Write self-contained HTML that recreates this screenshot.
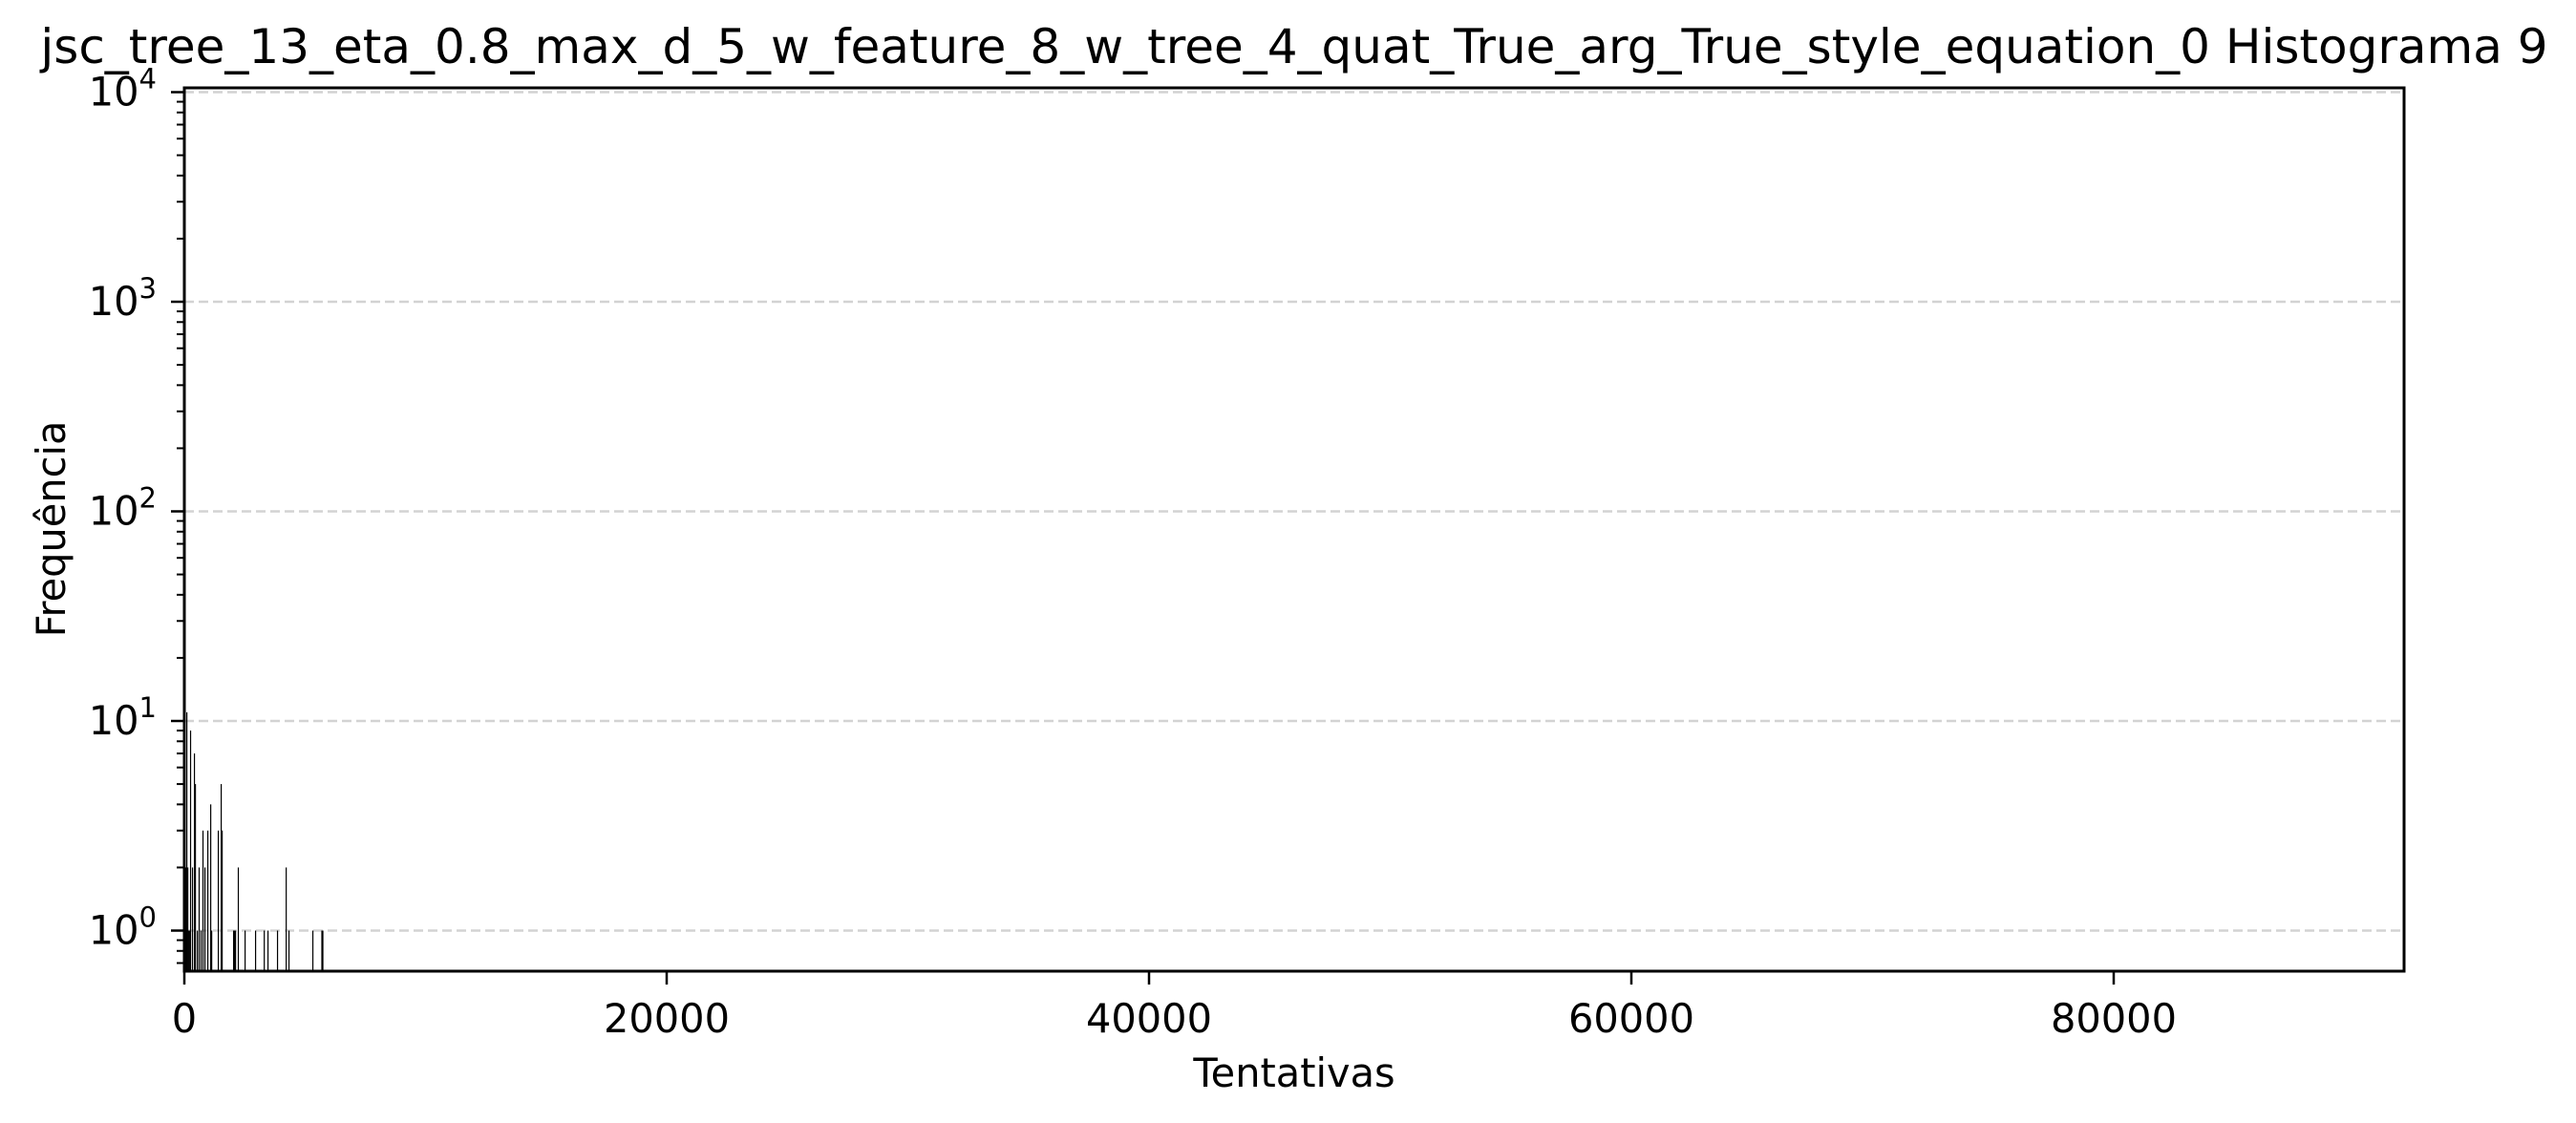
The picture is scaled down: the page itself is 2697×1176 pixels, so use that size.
<!DOCTYPE html>
<html><head><meta charset="utf-8"><style>
html,body{margin:0;padding:0;background:#fff;}
svg{display:block;font-family:"DejaVu Sans","Liberation Sans",sans-serif;}
</style></head><body>
<svg id="chart" width="2697" height="1176" xmlns="http://www.w3.org/2000/svg">
<rect width="2697" height="1176" fill="#fff"/>
<text x="1355" y="66" font-size="50" text-anchor="middle">jsc_tree_13_eta_0.8_max_d_5_w_feature_8_w_tree_4_quat_True_arg_True_style_equation_0 Histograma 9</text>
<g id="grid"></g>
<g id="bars"></g>
<g id="axes"></g>
<text x="1355" y="1138" font-size="41.5" text-anchor="middle">Tentativas</text>
<text transform="translate(68,554) rotate(-90)" font-size="41.5" text-anchor="middle">Frequência</text>
</svg>
<script>
const binStarts=[0,40,80,120,160,200,235,315,395,435,515,590,670,750,830,950,1070,1110,1385,1505,1545,2020,2060,2100,2215,2495,2930,3290,3445,3840,4200,4315,5305,5680,5720];
const binCounts=[1,2,11,2,1,1,9,2,7,5,1,2,1,3,2,3,4,1,3,5,3,1,1,1,2,1,1,1,1,1,2,1,1,1,1];
const binWidth=40;
const xTicks=[0,20000,40000,60000,80000];
const xTickLabels=["0","20000","40000","60000","80000"];
const yTicks=[1,10,100,1000,10000];
const yTickExp=["0","1","2","3","4"];
const L=193,R=2517,T=92,B=1017,XMAX=92040;
const Y0=974.5,DEC=219.5;
const NS="http://www.w3.org/2000/svg";
function xs(v){return L+v/XMAX*(R-L);}
function ys(v){return Y0-Math.log10(v)*DEC;}
function mk(tag,attrs,parent){const e=document.createElementNS(NS,tag);for(const k in attrs)e.setAttribute(k,attrs[k]);parent.appendChild(e);return e;}
const grid=document.getElementById('grid'),bars=document.getElementById('bars'),axes=document.getElementById('axes');
yTicks.forEach((v,i)=>{
  const g=mk('line',{x1:L,x2:R,y1:ys(v),y2:ys(v),stroke:'#d3d3d3','stroke-width':2.5,'stroke-dasharray':'10,5'},grid);
  
  
});
binStarts.forEach((s,i)=>{
  const x=xs(s),w=Math.max(xs(s+binWidth)-x,1.2),y=ys(binCounts[i]);
  const r=mk('rect',{x:x,y:y,width:w,height:B-y,fill:'#000'},bars);
  
  
});
const frame=mk('rect',{x:L,y:T,width:R-L,height:B-T,fill:'none',stroke:'#000','stroke-width':3},axes);


xTicks.forEach((v,i)=>{
  const t=mk('line',{x1:xs(v),x2:xs(v),y1:B,y2:B+14,stroke:'#000','stroke-width':2.5},axes);
  
  
  const l=mk('text',{x:xs(v),y:1081,'font-size':41.5,'text-anchor':'middle'},axes);
  l.textContent=xTickLabels[i];
  
  
});
for(let d=-1;d<=4;d++){
  for(let m=1;m<=9;m++){
    const v=m*Math.pow(10,d);const y=ys(v);
    if(y<T-1||y>B+1)continue;
    const major=(m===1);
    const t=mk('line',{x1:L,x2:L-(major?14:8),y1:y,y2:y,stroke:'#000','stroke-width':major?2.5:2},axes);
    
    
  }
}
yTicks.forEach((v,i)=>{
  const l=mk('text',{x:164,y:ys(v)+14,'font-size':41.5,'text-anchor':'end'},axes);
  
  
  const a=mk('tspan',{},l);a.textContent='10';
  const b=mk('tspan',{dy:-18,'font-size':29},l);b.textContent=yTickExp[i];
});
</script>
</body></html>
